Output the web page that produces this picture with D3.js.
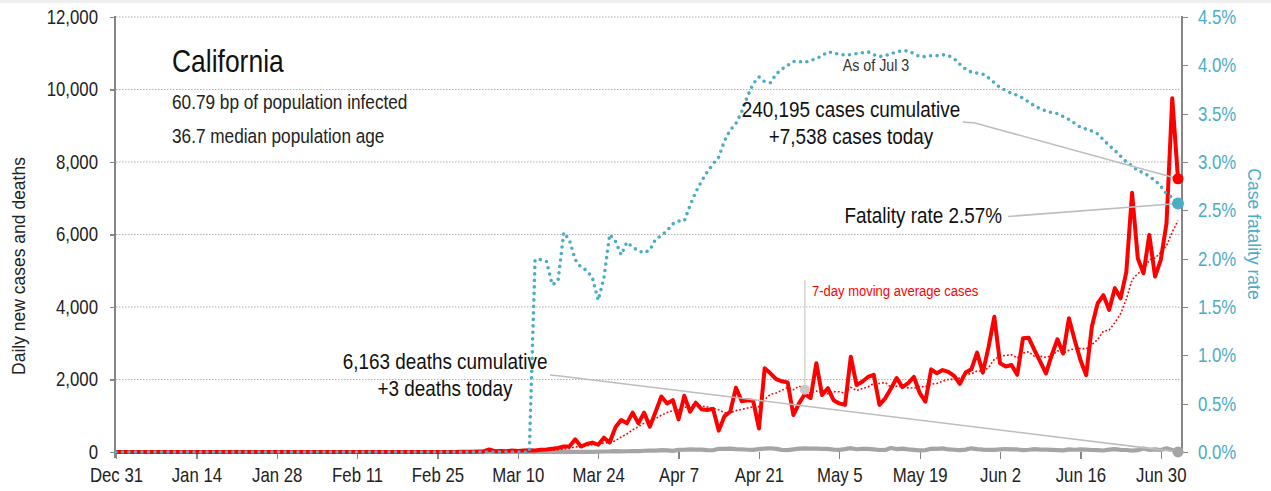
<!DOCTYPE html>
<meta charset="utf-8">
<style>

body {
  margin: 0;
  background: #fff;
}

svg {
  display: block;
}

text {
  font-family: "Liberation Sans", Arial, sans-serif;
}

.axis path {
  display: none;
}

.axis line {
  stroke: #868686;
  stroke-width: 1.3;
  shape-rendering: crispEdges;
}

.grid line {
  stroke: #b0b0b0;
  stroke-width: 1;
  stroke-dasharray: 1.5,1.5;
}

</style>
<body>
<script src="https://d3js.org/d3.v7.min.js"></script>
<script>

// daily values from Dec 31 2019 (index 0) to Jul 3 2020 (index 185)
var firstDate = "2019-12-31";
var lastDate = "2020-07-03";

var cases = [
  0,0,0,0,0,0,0,0,0,0,
  0,0,0,0,0,0,0,0,0,0,
  0,0,0,0,0,0,2,0,0,0,
  0,1,0,3,0,0,0,0,0,0,
  0,0,0,0,0,0,0,0,0,0,
  0,0,2,0,1,0,0,1,3,2,
  5,10,8,12,15,
  70,20,30,20,40,30,40,50,40,60,
  70,90,110,150,150,350,150,220,260,200,
  395,260,680,880,790,1085,790,1085,700,1110,
  1530,1340,1430,900,1550,1110,1360,1180,1160,1190,
  590,990,1110,1775,1400,1430,1410,650,2310,2170,
  2010,1950,1920,1020,1350,1600,1490,2450,1570,1760,
  1430,1340,1300,2630,1850,1940,2070,2130,1300,1480,
  1750,2040,1790,1900,2070,1630,1390,2280,2170,2260,
  2210,2100,1880,2190,2280,2740,2190,2900,3730,2450,
  2360,2400,2130,3140,3150,2810,2490,2170,2670,3110,
  2720,3690,3090,2540,2120,3460,4100,4330,3920,4520,
  4240,4970,7150,5340,4930,5990,4840,5300,6310,9760,7538
];

var deaths = [
  0,0,0,0,0,0,0,0,0,0,
  0,0,0,0,0,0,0,0,0,0,
  0,0,0,0,0,0,0,0,0,0,
  0,0,0,0,0,0,0,0,0,0,
  0,0,0,0,0,0,0,0,0,0,
  0,0,0,0,0,0,0,0,0,0,
  0,0,0,0,0,0,0,0,0,0,
  0,0,0,
  5,0,2,3,3,6,4,2,4,7,5,13,14,16,22,18,20,24,25,
  35,40,38,50,45,30,60,62,70,68,65,50,48,90,85,92,80,75,62,58,80,95,104,88,60,52,72,95,100,92,
  95,84,86,66,60,80,105,75,90,85,70,55,58,110,80,95,72,60,45,52,92,88,100,70,62,52,66,102,80,68,60,
  58,70,82,75,70,50,62,78,68,66,58,52,45,72,62,70,68,55,50,42,64,78,60,55,40,52,95,60,70,55,
  100,55,3
];

// case fatality rate, percent
var fatalityRate = [
  0,0,0,0,0,0,0,0,0,0,
  0,0,0,0,0,0,0,0,0,0,
  0,0,0,0,0,0,0,0,0,0,
  0,0,0,0,0,0,0,0,0,0,
  0,0,0,0,0,0,0,0,0,0,
  0,0,0,0,0,0,0,0,0,0,
  0,0,0,0,0,0,0,0,0,0,
  0,0,0,
  1.99,1.99,1.97,1.73,1.77,2.27,2.19,1.99,1.91,1.88,
  1.80,1.57,1.80,2.25,2.18,2.04,2.17,2.12,2.08,2.06,
  2.09,2.20,2.24,2.29,2.36,2.39,2.39,2.55,2.69,2.80,
  2.90,2.98,3.05,3.22,3.33,3.40,3.52,3.68,3.81,3.88,
  3.83,3.82,3.91,3.96,4.00,4.04,4.04,4.03,4.05,4.07,
  4.10,4.14,4.13,4.11,4.11,4.11,4.12,4.13,4.14,4.11,
  4.09,4.10,4.12,4.14,4.15,4.15,4.12,4.09,4.09,4.10,
  4.10,4.11,4.10,4.07,4.01,3.96,3.93,3.92,3.91,3.87,
  3.82,3.77,3.74,3.71,3.69,3.66,3.62,3.58,3.55,3.53,
  3.51,3.50,3.47,3.44,3.40,3.36,3.34,3.32,3.29,3.23,
  3.17,3.12,3.06,3.00,2.96,2.91,2.89,2.85,2.81,2.75,
  2.67,2.63,2.57
];

var dateTicks = ["2019-12-31", "2020-01-14", "2020-01-28", "2020-02-11", "2020-02-25",
  "2020-03-10", "2020-03-24", "2020-04-07", "2020-04-21", "2020-05-05", "2020-05-19",
  "2020-06-02", "2020-06-16", "2020-06-30"];
var countTicks = [0, 2000, 4000, 6000, 8000, 10000, 12000];
var rateTicks = [0, 0.5, 1, 1.5, 2, 2.5, 3, 3.5, 4, 4.5];

var maDay = "2020-04-29";   // where the moving average label points

var width = 1271,
    height = 491;

var red = "#ff0000",
    blue = "#4bacc6",
    gray = "#a5a5a5",
    leader = "#bdbdbd";

var squeeze = 0.84;   // narrow look, no condensed font installed

var parseDate = d3.timeParse("%Y-%m-%d");
var start = parseDate(firstDate);
var days = d3.range(cases.length).map(function(i) { return d3.timeDay.offset(start, i); });

var x = d3.scaleTime()
    .domain([start, parseDate(lastDate)])
    .range([116, 1178]);

var y = d3.scaleLinear().domain([0, 12000]).range([452, 17]);
var y2 = d3.scaleLinear().domain([0, 4.5]).range([452, 17]);

var svg = d3.select("body").append("svg")
    .attr("width", width)
    .attr("height", height);

svg.append("rect")
    .attr("width", width)
    .attr("height", 3)
    .attr("fill", "#efefef");

function narrowText(xPos, yPos, size, anchor, color, t) {
  return svg.append("text")
      .attr("transform", "translate(" + xPos + "," + yPos + ") scale(" + squeeze + ",1)")
      .attr("text-anchor", anchor)
      .style("font-size", size + "px")
      .attr("fill", color)
      .text(t);
}

function squeezeTicks(g) {
  g.selectAll(".tick text")
      .attr("x", function() { return +d3.select(this).attr("x") / squeeze; })
      .attr("transform", "scale(" + squeeze + ",1)")
      .style("font-size", "20px");
}

// gridlines
svg.append("g")
    .attr("class", "grid")
  .selectAll("line")
    .data(countTicks.filter(function(d) { return d > 0; }))
  .enter().append("line")
    .attr("x1", 116)
    .attr("x2", 1182)
    .attr("y1", function(d) { return y(d); })
    .attr("y2", function(d) { return y(d); });

// axes
var leftAxis = svg.append("g")
    .attr("class", "axis")
    .attr("transform", "translate(115,0)")
    .call(d3.axisLeft(y).tickValues(countTicks).tickSize(5).tickPadding(12)
      .tickFormat(d3.format(",")))
    .call(squeezeTicks);
leftAxis.selectAll("text").attr("fill", "#222");
leftAxis.append("line")
    .attr("y1", 16)
    .attr("y2", 458);

var rightAxis = svg.append("g")
    .attr("class", "axis")
    .attr("transform", "translate(1182,0)")
    .call(d3.axisRight(y2).tickValues(rateTicks).tickSize(6).tickPadding(10)
      .tickFormat(function(d) { return d.toFixed(1) + "%"; }))
    .call(squeezeTicks);
rightAxis.selectAll("text").attr("fill", blue);
rightAxis.append("line")
    .attr("y1", 16)
    .attr("y2", 454);

var bottomAxis = svg.append("g")
    .attr("class", "axis")
    .attr("transform", "translate(0,452)")
    .call(d3.axisBottom(x).tickValues(dateTicks.map(parseDate)).tickSize(7).tickPadding(9)
      .tickFormat(d3.timeFormat("%b %-d")))
    .call(squeezeTicks);
bottomAxis.selectAll("text").attr("fill", "#222");

svg.append("text")
    .attr("transform", "translate(25,266) rotate(-90)")
    .attr("text-anchor", "middle")
    .style("font-size", "17.5px")
    .attr("fill", "#222")
    .text("Daily new cases and deaths");

svg.append("text")
    .attr("transform", "translate(1248,234) rotate(90)")
    .attr("text-anchor", "middle")
    .style("font-size", "17.5px")
    .attr("fill", blue)
    .text("Case fatality rate");

// series
var countLine = d3.line()
    .x(function(d, i) { return x(days[i]); })
    .y(function(d) { return y(d); });

svg.append("path")
    .datum(deaths)
    .attr("fill", "none")
    .attr("stroke", gray)
    .attr("stroke-width", 4.2)
    .attr("stroke-linejoin", "round")
    .attr("d", countLine);

svg.append("path")
    .datum(cases)
    .attr("fill", "none")
    .attr("stroke", red)
    .attr("stroke-width", 4)
    .attr("stroke-linejoin", "round")
    .attr("d", countLine);

// 7-day trailing average of the cases drawn above
var average = days.slice(6).map(function(day, j) {
  return {date: day, value: d3.mean(cases.slice(j, j + 7))};
});

svg.append("path")
    .datum(average)
    .attr("fill", "none")
    .attr("stroke", red)
    .attr("stroke-width", 1.6)
    .attr("stroke-dasharray", "1.8,2")
    .attr("d", d3.line()
      .x(function(d) { return x(d.date); })
      .y(function(d) { return y(d.value); }));

svg.append("path")
    .datum(fatalityRate)
    .attr("fill", "none")
    .attr("stroke", blue)
    .attr("stroke-width", 3.6)
    .attr("stroke-linecap", "round")
    .attr("stroke-dasharray", "0,6.5")
    .attr("d", d3.line()
      .x(function(d, i) { return x(days[i]); })
      .y(function(d) { return y2(d); }));

// text block
narrowText(172, 72, 31.5, "start", "#111", "California");
narrowText(172, 109, 20.5, "start", "#222", "60.79 bp of population infected");
narrowText(172, 143, 20.5, "start", "#222", "36.7 median population age");
narrowText(876, 71, 17, "middle", "#333", "As of Jul 3");

// annotations
var n = cases.length - 1;
var lastX = x(days[n]);

function addLeader(points) {
  svg.append("path")
      .attr("fill", "none")
      .attr("stroke", leader)
      .attr("stroke-width", 1.6)
      .attr("d", d3.line()(points));
}

addLeader([[963, 122], [975, 123], [lastX, y(cases[n])]]);
addLeader([[1008, 216.5], [lastX, y2(fatalityRate[n])]]);
addLeader([[550, 375], [558, 375.7], [lastX, y(deaths[n])]]);

var ma = average.filter(function(d) { return +d.date === +parseDate(maDay); })[0];
svg.append("line")
    .attr("x1", x(ma.date))
    .attr("x2", x(ma.date))
    .attr("y1", 280)
    .attr("y2", y(ma.value))
    .attr("stroke", "#cfcfcf")
    .attr("stroke-width", 1.3);
svg.append("circle")
    .attr("cx", x(ma.date))
    .attr("cy", y(ma.value))
    .attr("r", 5)
    .attr("fill", "#c8c8c8");

narrowText(812, 296, 15.5, "start", red, "7-day moving average cases");

narrowText(851, 117, 22.5, "middle", "#111", "240,195 cases cumulative");
narrowText(851, 144, 22.5, "middle", "#111", "+7,538 cases today");
narrowText(1002, 223, 22.5, "end", "#111", "Fatality rate 2.57%");
narrowText(445, 369, 22.5, "middle", "#111", "6,163 deaths cumulative");
narrowText(445, 396, 22.5, "middle", "#111", "+3 deaths today");

// end dots
svg.append("circle")
    .attr("cx", lastX)
    .attr("cy", y(deaths[n]))
    .attr("r", 5.5)
    .attr("fill", gray);
svg.append("circle")
    .attr("cx", lastX)
    .attr("cy", y(cases[n]))
    .attr("r", 5.5)
    .attr("fill", red);
svg.append("circle")
    .attr("cx", lastX)
    .attr("cy", y2(fatalityRate[n]))
    .attr("r", 6)
    .attr("fill", blue);

</script>
</body>
